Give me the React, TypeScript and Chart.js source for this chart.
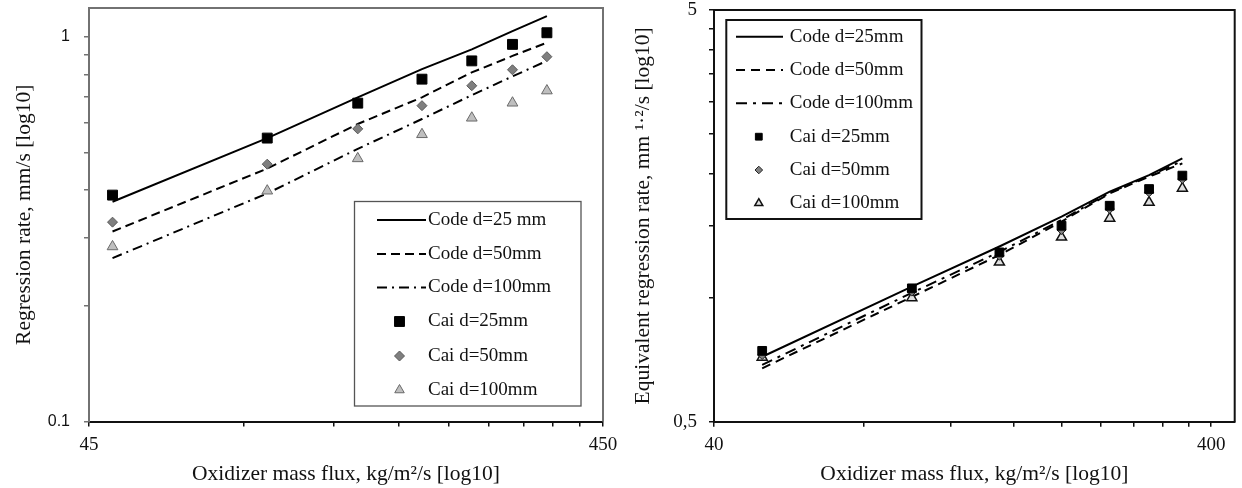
import React, { useEffect, useRef } from 'react';
import { Chart, registerables } from 'chart.js';

Chart.register(...registerables);

// ---------- data ----------
const fluxX = [50, 100, 150, 200, 250, 300, 350];

// Left chart: regression rate, mm/s
const leftCode25 = [0.373, 0.546, 0.697, 0.825, 0.929, 1.036, 1.133];
const leftCode50 = [0.312, 0.455, 0.594, 0.697, 0.809, 0.893, 0.967];
const leftCode100 = [0.266, 0.392, 0.512, 0.612, 0.706, 0.79, 0.867];
const leftCai25 = [0.388, 0.546, 0.673, 0.777, 0.867, 0.957, 1.026];
const leftCai50 = [0.33, 0.467, 0.577, 0.663, 0.747, 0.822, 0.889];
const leftCai100 = [0.285, 0.398, 0.483, 0.558, 0.616, 0.674, 0.725];

// Right chart: equivalent regression rate, mm^1.2/s
const rightCode25 = [0.719, 1.064, 1.332, 1.574, 1.81, 1.986, 2.18];
const rightCode50 = [0.674, 1.005, 1.27, 1.531, 1.793, 1.969, 2.12];
const rightCode100 = [0.687, 1.028, 1.292, 1.545, 1.8, 1.977, 2.15];
const rightCai25 = [0.743, 1.054, 1.289, 1.496, 1.673, 1.837, 1.98];
const rightCai50 = [0.726, 1.035, 1.265, 1.461, 1.643, 1.804, 1.943];
const rightCai100 = [0.717, 1.0, 1.22, 1.403, 1.56, 1.705, 1.845];

// ticks
const leftXTicks = [45, 90, 135, 180, 225, 270, 315, 360, 405, 450];
const leftXLabels = ['45', '', '', '', '', '', '', '', '', '450'];
const leftYTicks = [0.1, 0.2, 0.3, 0.4, 0.5, 0.6, 0.7, 0.8, 0.9, 1];
const leftYLabels = ['0.1', '', '', '', '', '', '', '', '', '1'];
const rightXTicks = [40, 80, 120, 160, 200, 240, 280, 320, 360, 400];
const rightXLabels = ['40', '', '', '', '', '', '', '', '', '400'];
const rightYTicks = [0.5, 1, 1.5, 2, 2.5, 3, 3.5, 4, 4.5, 5];
const rightYLabels = ['0,5', '', '', '', '', '', '', '', '', '5'];

const leftLegend = ['Code d=25 mm', 'Code d=50mm', 'Code d=100mm', 'Cai d=25mm', 'Cai d=50mm', 'Cai d=100mm'];
const rightLegend = ['Code d=25mm', 'Code d=50mm', 'Code d=100mm', 'Cai d=25mm', 'Cai d=50mm', 'Cai d=100mm'];

const xTitle = 'Oxidizer mass flux, kg/m²/s [log10]';
const leftYTitle = 'Regression rate, mm/s [log10]';
const rightYTitle = 'Equivalent regression rate, mm ¹·²/s [log10]';

// ---------- helpers ----------
const pts = (ys: number[]) => fluxX.map((x, i) => ({ x, y: ys[i] }));

function drawMarker(ctx: CanvasRenderingContext2D, style: string, x: number, y: number, r: number, fill: string, stroke: string, lw: number) {
  ctx.save();
  ctx.beginPath();
  if (style === 'rect') {
    const s = r * Math.SQRT1_2;
    ctx.rect(x - s, y - s, 2 * s, 2 * s);
  } else if (style === 'rectRot') {
    ctx.moveTo(x - r, y);
    ctx.lineTo(x, y - r);
    ctx.lineTo(x + r, y);
    ctx.lineTo(x, y + r);
    ctx.closePath();
  } else {
    ctx.moveTo(x, y - r);
    ctx.lineTo(x + r * 0.866, y + r / 2);
    ctx.lineTo(x - r * 0.866, y + r / 2);
    ctx.closePath();
  }
  ctx.fillStyle = fill;
  ctx.fill();
  ctx.lineWidth = lw;
  ctx.strokeStyle = stroke;
  ctx.stroke();
  ctx.restore();
}

const framePlugin = {
  id: 'frame',
  afterDraw(chart: any, _args: any, opts: any) {
    const { ctx, chartArea: a } = chart;
    ctx.save();
    ctx.strokeStyle = opts.color;
    ctx.lineWidth = opts.width;
    ctx.beginPath();
    ctx.moveTo(a.left, a.top);
    ctx.lineTo(a.right, a.top);
    ctx.lineTo(a.right, a.bottom);
    ctx.stroke();
    ctx.restore();
  },
};

const boxLegendPlugin = {
  id: 'boxLegend',
  afterDraw(chart: any, _args: any, opts: any) {
    const { ctx } = chart;
    const [x1, y1, x2, y2] = opts.box;
    ctx.save();
    ctx.fillStyle = '#fff';
    ctx.fillRect(x1, y1, x2 - x1, y2 - y1);
    ctx.strokeStyle = opts.borderColor;
    ctx.lineWidth = opts.borderWidth;
    ctx.strokeRect(x1, y1, x2 - x1, y2 - y1);
    chart.data.datasets.forEach((ds: any, i: number) => {
      const y = opts.rows[i];
      if (ds.showLine) {
        ctx.save();
        ctx.strokeStyle = ds.borderColor;
        ctx.lineWidth = ds.borderWidth;
        ctx.setLineDash(ds.borderDash || []);
        ctx.beginPath();
        ctx.moveTo(opts.lineX[0], y);
        ctx.lineTo(opts.lineX[1], y);
        ctx.stroke();
        ctx.restore();
      } else {
        drawMarker(ctx, ds.pointStyle, opts.markerX, y, ds.legendRadius, ds.pointBackgroundColor, ds.pointBorderColor, ds.pointBorderWidth);
      }
      ctx.fillStyle = '#111';
      ctx.font = opts.font;
      ctx.textBaseline = 'middle';
      ctx.textAlign = 'left';
      ctx.fillText(opts.labels[i], opts.textX, y);
    });
    ctx.restore();
  },
};

type Spec = {
  code: number[][];
  cai: number[][];
  dashes: number[][];
  markers: { style: string; r: number; lr: number; fill: string; stroke: string; lw: number }[];
  xMin: number; xMax: number; yMin: number; yMax: number;
  xTicks: number[]; xLabels: string[]; yTicks: number[]; yLabels: string[];
  yTitle: string;
  yAxisWidth: number; xAxisHeight: number; padTop: number; padRight: number;
  yTickFont: any; yTickPad: number; yTitlePad: number;
  axisColor: string; xAxisColor: string; tickColor: string; frameColor: string;
  legend: any;
};

function makeConfig(s: Spec): any {
  const datasets: any[] = [];
  s.code.forEach((ys, i) => {
    datasets.push({
      data: pts(ys),
      showLine: true,
      borderColor: '#000',
      borderWidth: 2,
      borderDash: s.dashes[i],
      pointRadius: 0,
      fill: false,
      tension: 0,
      order: 1,
    });
  });
  s.cai.forEach((ys, i) => {
    const m = s.markers[i];
    datasets.push({
      data: pts(ys),
      showLine: false,
      pointStyle: m.style,
      pointRadius: m.r,
      legendRadius: m.lr,
      pointBackgroundColor: m.fill,
      pointBorderColor: m.stroke,
      pointBorderWidth: m.lw,
      order: 0,
    });
  });
  const titleFont = { family: 'Liberation Serif', size: 21.5 };
  return {
    type: 'scatter',
    data: { datasets },
    plugins: [framePlugin, boxLegendPlugin],
    options: {
      responsive: false,
      devicePixelRatio: 1,
      animation: false,
      events: [],
      layout: { padding: { left: 0, right: s.padRight, top: s.padTop, bottom: 0 } },
      plugins: {
        legend: { display: false },
        tooltip: { enabled: false },
        frame: { color: s.frameColor, width: 2 },
        boxLegend: s.legend,
      },
      scales: {
        x: {
          type: 'logarithmic',
          min: s.xMin,
          max: s.xMax,
          afterBuildTicks: (sc: any) => { sc.ticks = s.xTicks.map((v) => ({ value: v })); },
          afterFit: (sc: any) => {
            sc.height = s.xAxisHeight;
            sc.paddingLeft = 0; sc.paddingRight = 0; sc.paddingTop = 0; sc.paddingBottom = 0;
          },
          ticks: {
            autoSkip: false, maxRotation: 0, minRotation: 0, padding: 7, color: '#111',
            font: { family: 'Liberation Serif', size: 19 },
            callback: (_v: any, i: number) => s.xLabels[i],
          },
          grid: { drawOnChartArea: false, drawTicks: true, tickLength: 5, color: s.xAxisColor, lineWidth: 1.5 },
          border: { display: true, color: s.xAxisColor, width: 2 },
          title: { display: true, text: xTitle, color: '#111', font: titleFont, padding: { top: 0, bottom: 1 } },
        },
        y: {
          type: 'logarithmic',
          min: s.yMin,
          max: s.yMax,
          afterBuildTicks: (sc: any) => { sc.ticks = s.yTicks.map((v) => ({ value: v })); },
          afterFit: (sc: any) => {
            sc.width = s.yAxisWidth;
            sc.paddingLeft = 0; sc.paddingRight = 0; sc.paddingTop = 0; sc.paddingBottom = 0;
          },
          ticks: {
            autoSkip: false, padding: s.yTickPad, color: '#111',
            font: s.yTickFont,
            callback: (_v: any, i: number) => s.yLabels[i],
          },
          grid: { drawOnChartArea: false, drawTicks: true, tickLength: 5, color: s.tickColor, lineWidth: 1.5 },
          border: { display: true, color: s.axisColor, width: 2 },
          title: { display: true, text: s.yTitle, color: '#111', font: titleFont, padding: { top: s.yTitlePad, bottom: 0 } },
        },
      },
    },
  };
}

const leftSpec: Spec = {
  code: [leftCode25, leftCode50, leftCode100],
  cai: [leftCai25, leftCai50, leftCai100],
  dashes: [[], [9, 5], [10, 5, 2, 5]],
  markers: [
    { style: 'rect', r: 7, lr: 7, fill: '#000', stroke: '#000', lw: 1 },
    { style: 'rectRot', r: 5, lr: 5, fill: '#7f7f7f', stroke: '#5a5a5a', lw: 1 },
    { style: 'triangle', r: 6.2, lr: 5.5, fill: '#bfbfbf', stroke: '#6a6a6a', lw: 1 },
  ],
  xMin: 45, xMax: 450, yMin: 0.1, yMax: 1.19,
  xTicks: leftXTicks, xLabels: leftXLabels, yTicks: leftYTicks, yLabels: leftYLabels,
  yTitle: leftYTitle,
  yAxisWidth: 89, xAxisHeight: 66.5, padTop: 5, padRight: 17,
  yTickFont: { family: 'Liberation Sans', size: 16 }, yTickPad: 14, yTitlePad: 11,
  axisColor: '#727272', xAxisColor: '#111', tickColor: '#727272', frameColor: '#727272',
  legend: {
    box: [354.5, 201.5, 581, 406],
    rows: [220, 254, 287.5, 321.5, 356, 390],
    lineX: [377, 426],
    markerX: 399.5,
    textX: 428,
    labels: leftLegend,
    font: '19px "Liberation Serif"',
    borderColor: '#555',
    borderWidth: 1.3,
  },
};

const rightSpec: Spec = {
  code: [rightCode25, rightCode50, rightCode100],
  cai: [rightCai25, rightCai50, rightCai100],
  dashes: [[], [9, 6], [11, 6, 3, 6]],
  markers: [
    { style: 'rect', r: 6.2, lr: 4.8, fill: '#000', stroke: '#000', lw: 1 },
    { style: 'rectRot', r: 4.5, lr: 3.8, fill: '#808080', stroke: '#222', lw: 1 },
    { style: 'triangle', r: 5.8, lr: 4.6, fill: '#e0e0e0', stroke: '#111', lw: 1.5 },
  ],
  xMin: 40, xMax: 446, yMin: 0.5, yMax: 5,
  xTicks: rightXTicks, xLabels: rightXLabels, yTicks: rightYTicks, yLabels: rightYLabels,
  yTitle: rightYTitle,
  yAxisWidth: 94, xAxisHeight: 66.3, padTop: 10, padRight: 2,
  yTickFont: { family: 'Liberation Serif', size: 19 }, yTickPad: 12, yTitlePad: 10,
  axisColor: '#111', xAxisColor: '#111', tickColor: '#111', frameColor: '#111',
  legend: {
    box: [106.3, 20, 301.5, 219],
    rows: [36.7, 70, 103.3, 136.7, 170, 203.3],
    lineX: [116, 163],
    markerX: 138.8,
    textX: 169.8,
    labels: rightLegend,
    font: '19px "Liberation Serif"',
    borderColor: '#111',
    borderWidth: 2,
  },
};

function ChartCanvas({ spec, left, width }: { spec: Spec; left: number; width: number }) {
  const ref = useRef<HTMLCanvasElement>(null);
  useEffect(() => {
    const chart = new Chart(ref.current as HTMLCanvasElement, makeConfig(spec));
    return () => chart.destroy();
  }, [spec]);
  return (
    <canvas
      ref={ref}
      width={width}
      height={488}
      style={{ position: 'absolute', left, top: 0, width, height: 488 }}
    />
  );
}

export default function App() {
  return (
    <div style={{ position: 'absolute', left: 0, top: 0, width: 1242, height: 488, background: '#fff' }}>
      <ChartCanvas spec={leftSpec} left={0} width={620} />
      <ChartCanvas spec={rightSpec} left={620} width={622} />
    </div>
  );
}
